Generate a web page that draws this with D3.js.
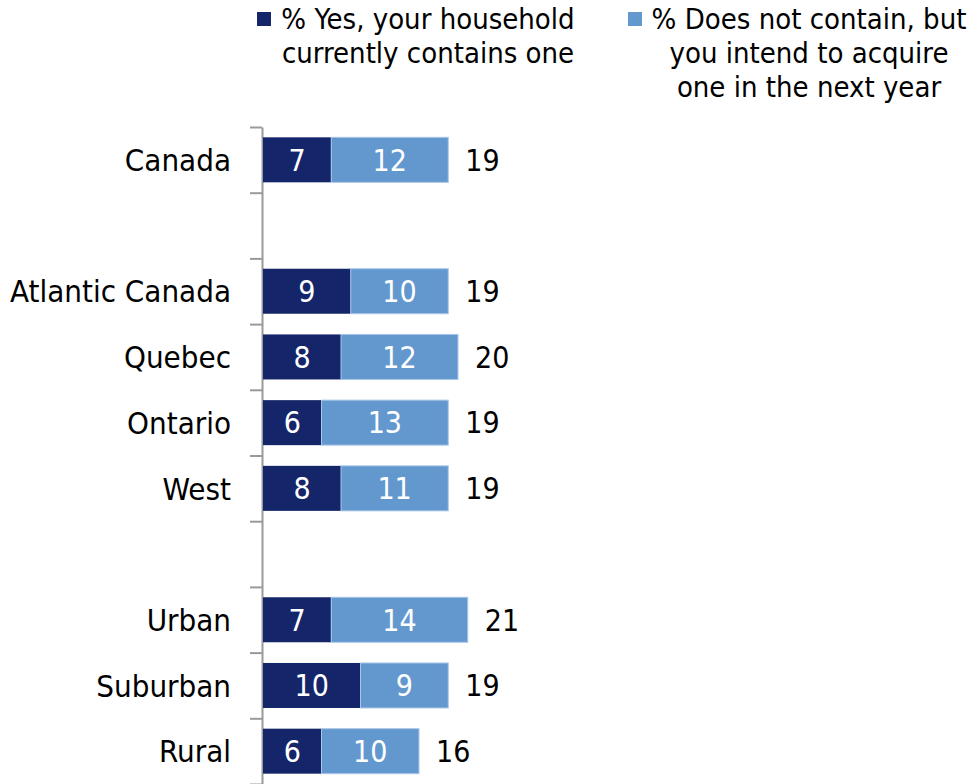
<!DOCTYPE html>
<html>
<head>
<meta charset="utf-8">
<script src="https://cdn.jsdelivr.net/npm/d3@7"></script>
<style>
  html, body { margin: 0; padding: 0; background: #fff; }
  svg { display: block; }
  text { font-family: "DejaVu Sans Condensed", "DejaVu Sans", sans-serif; }
</style>
</head>
<body>
<svg id="chart" width="970" height="784"></svg>
<script>
// Row labels; empty strings are spacer rows between groups
const categories = ["Canada", "", "Atlantic Canada", "Quebec", "Ontario", "West", "", "Urban", "Suburban", "Rural"];
// % Yes, household currently contains one
const hasOne = [7, null, 9, 8, 6, 8, null, 7, 10, 6];
// % Does not contain, but intends to acquire one in the next year
const intendOne = [12, null, 10, 12, 13, 11, null, 14, 9, 10];
// Net totals shown to the right of each bar
const totals = [19, null, 19, 20, 19, 19, null, 21, 19, 16];

const seriesNames = ["% Yes, your household\ncurrently contains one",
                     "% Does not contain, but\nyou intend to acquire\none in the next year"];
const colors = ["#14256a", "#6398cf"];

const svg = d3.select("#chart");
const labelSize = 31;
const numSize = 30;
const legendSize = 29;

const rowIdx = categories.map((d, i) => i);
const y = d3.scaleBand().domain(rowIdx).range([127, 784]).paddingInner(0.315).paddingOuter(0.157);
const x = d3.scaleLinear().domain([0, 60]).range([263, 263 + 9.75 * 60]);

// Axis with ticks at the boundaries between rows
const yEdges = d3.scaleLinear().domain([0, categories.length]).range([127, 784]);
const axis = svg.append("g")
  .attr("transform", `translate(${x(0) - 1},0)`)
  .call(d3.axisLeft(yEdges).tickValues(d3.range(0, categories.length + 1)).tickFormat("").tickSize(12).tickSizeOuter(0));
axis.selectAll("path, line").attr("stroke", "#9a9a9a").attr("stroke-width", 2);

// Category labels
svg.append("g").selectAll("text")
  .data(categories)
  .join("text")
  .attr("x", 231)
  .attr("y", (d, i) => y(i) + y.bandwidth() / 2)
  .attr("dy", "0.36em")
  .attr("text-anchor", "end")
  .attr("font-size", labelSize)
  .attr("fill", "#000")
  .text(d => d);

// Stacked bars
const rows = categories.map((c, i) => ({ i, a: hasOne[i], b: intendOne[i], t: totals[i] }))
  .filter(r => r.a != null);

const bars = svg.append("g");
rows.forEach(r => {
  const cy = y(r.i);
  const h = y.bandwidth();
  bars.append("rect")
    .attr("x", x(0)).attr("y", cy)
    .attr("width", x(r.a) - x(0)).attr("height", h)
    .attr("fill", colors[0]);
  bars.append("rect")
    .attr("x", x(r.a)).attr("y", cy)
    .attr("width", x(r.a + r.b) - x(r.a)).attr("height", h)
    .attr("fill", colors[1])
    .attr("stroke", "#a9c6e8").attr("stroke-width", 1);
  // Segment values
  [[0, r.a], [r.a, r.a + r.b]].forEach(([s, e]) => {
    bars.append("text")
      .attr("x", (x(s) + x(e)) / 2)
      .attr("y", cy + h / 2)
      .attr("dy", "0.36em")
      .attr("text-anchor", "middle")
      .attr("font-size", numSize)
      .attr("fill", "#fff")
      .text(e - s);
  });
  // Total
  bars.append("text")
    .attr("x", x(r.a + r.b) + 17)
    .attr("y", cy + h / 2)
    .attr("dy", "0.36em")
    .attr("text-anchor", "start")
    .attr("font-size", numSize)
    .attr("fill", "#000")
    .text(r.t);
});

// Legend
const legendItems = [
  { cx: 428, sqX: 257, lines: seriesNames[0].split("\n"), color: colors[0] },
  { cx: 809, sqX: 628, lines: seriesNames[1].split("\n"), color: colors[1] }
];
const lg = svg.append("g");
legendItems.forEach(it => {
  lg.append("rect").attr("x", it.sqX).attr("y", 12).attr("width", 14).attr("height", 14).attr("fill", it.color);
  it.lines.forEach((ln, k) => {
    lg.append("text")
      .attr("x", it.cx)
      .attr("y", 29 + k * 34)
      .attr("text-anchor", "middle")
      .attr("font-size", legendSize)
      .attr("fill", "#000")
      .text(ln);
  });
});
</script>
</body>
</html>
